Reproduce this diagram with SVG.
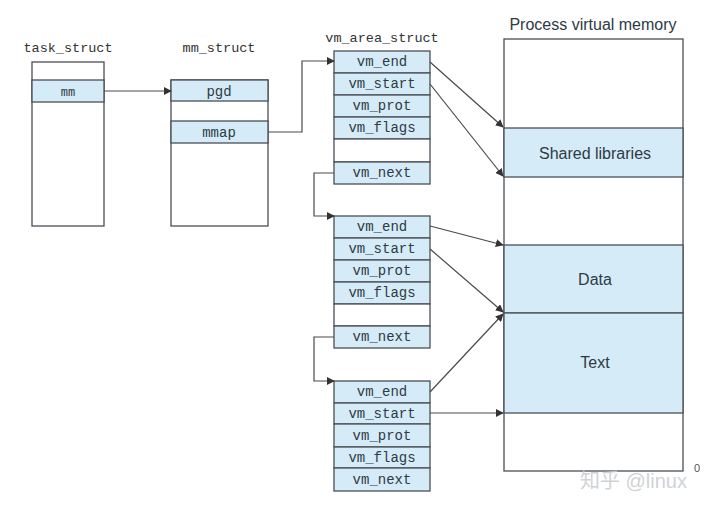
<svg xmlns="http://www.w3.org/2000/svg" width="720" height="509" viewBox="0 0 720 509">
<defs>
<style>
.box{fill:#fff;stroke:#4a4f55;stroke-width:1.3}
.row{fill:#d5ebf7;stroke:#4a4f55;stroke-width:1.3}
.mono{font-family:"Liberation Mono","DejaVu Sans Mono",monospace;font-size:14px;fill:#2e3a44;text-anchor:middle}
.lbl{font-family:"Liberation Mono","DejaVu Sans Mono",monospace;font-size:13.5px;fill:#333;text-anchor:middle}
.sans{font-family:"Liberation Sans",Arial,sans-serif;font-size:16px;fill:#2e3a44;text-anchor:middle}
.con{fill:none;stroke:#4a4a4a;stroke-width:1.2;marker-end:url(#ah)}
</style>
<marker id="ah" viewBox="0 0 10 10" refX="9" refY="5" markerWidth="8" markerHeight="8" markerUnits="userSpaceOnUse" orient="auto">
<path d="M0,0 L10,5 L0,10 z" fill="#333"/>
</marker>
</defs>
<rect width="720" height="509" fill="#fff"/>

<g id="task_struct">
<text class="lbl" x="68" y="52">task_struct</text>
<rect class="box" x="32" y="62" width="72" height="164"/>
<rect class="row" x="32" y="80" width="72" height="22"/>
<text class="mono" x="68" y="96" style="font-size:12px">mm</text>
</g>

<g id="mm_struct">
<text class="lbl" x="219" y="52">mm_struct</text>
<rect class="box" x="171" y="80" width="97" height="146"/>
<rect class="row" x="171" y="80" width="97" height="21"/>
<text class="mono" x="219" y="96">pgd</text>
<rect class="row" x="171" y="121" width="97" height="22"/>
<text class="mono" x="219" y="137">mmap</text>
</g>

<g id="vma1">
<text class="lbl" x="382" y="42">vm_area_struct</text>
<rect class="row" x="334" y="51" width="96" height="22"/>
<text class="mono" x="382" y="66">vm_end</text>
<rect class="row" x="334" y="73" width="96" height="22"/>
<text class="mono" x="382" y="88">vm_start</text>
<rect class="row" x="334" y="95" width="96" height="22"/>
<text class="mono" x="382" y="110">vm_prot</text>
<rect class="row" x="334" y="117" width="96" height="22"/>
<text class="mono" x="382" y="132">vm_flags</text>
<rect class="box" x="334" y="139" width="96" height="23"/>
<rect class="row" x="334" y="162" width="96" height="22"/>
<text class="mono" x="382" y="177">vm_next</text>
</g>

<g id="vma2">
<rect class="row" x="334" y="216" width="96" height="22"/>
<text class="mono" x="382" y="231">vm_end</text>
<rect class="row" x="334" y="238" width="96" height="22"/>
<text class="mono" x="382" y="253">vm_start</text>
<rect class="row" x="334" y="260" width="96" height="22"/>
<text class="mono" x="382" y="275">vm_prot</text>
<rect class="row" x="334" y="282" width="96" height="22"/>
<text class="mono" x="382" y="297">vm_flags</text>
<rect class="box" x="334" y="304" width="96" height="22"/>
<rect class="row" x="334" y="326" width="96" height="22"/>
<text class="mono" x="382" y="341">vm_next</text>
</g>

<g id="vma3">
<rect class="row" x="334" y="381" width="96" height="22"/>
<text class="mono" x="382" y="396">vm_end</text>
<rect class="row" x="334" y="403" width="96" height="21"/>
<text class="mono" x="382" y="418">vm_start</text>
<rect class="row" x="334" y="424" width="96" height="23"/>
<text class="mono" x="382" y="440">vm_prot</text>
<rect class="row" x="334" y="447" width="96" height="21"/>
<text class="mono" x="382" y="462">vm_flags</text>
<rect class="row" x="334" y="468" width="96" height="23"/>
<text class="mono" x="382" y="484">vm_next</text>
</g>

<g id="vmem">
<text class="sans" x="593" y="30">Process virtual memory</text>
<rect class="box" x="504" y="39" width="179" height="432"/>
<rect class="row" x="504" y="128" width="179" height="49"/>
<text class="sans" x="595" y="159">Shared libraries</text>
<rect class="row" x="504" y="245" width="179" height="68"/>
<text class="sans" x="595" y="285">Data</text>
<rect class="row" x="504" y="313" width="179" height="100"/>
<text class="sans" x="595" y="368">Text</text>
<text x="694" y="472" style="font-family:'Liberation Sans',Arial,sans-serif;font-size:11px;fill:#555">0</text>
</g>

<g id="connectors">
<path class="con" d="M104,91 H171"/>
<path class="con" d="M268,132 H302 V61 H334"/>
<path class="con" d="M334,173 H314 V216 H334"/>
<path class="con" d="M334,337 H314 V381 H334"/>
<path class="con" d="M430,62 L503,127"/>
<path class="con" d="M430,84 L503,176"/>
<path class="con" d="M430,226 L503,245"/>
<path class="con" d="M430,249 L503,312"/>
<path class="con" d="M430,392 L503,314"/>
<path class="con" d="M430,413 L503,413"/>
</g>

<text x="580" y="488" style="font-family:'Liberation Sans','Noto Sans CJK SC',sans-serif;font-size:20px;fill:#c8ccd0;opacity:0.85">知乎 @linux</text>
</svg>
